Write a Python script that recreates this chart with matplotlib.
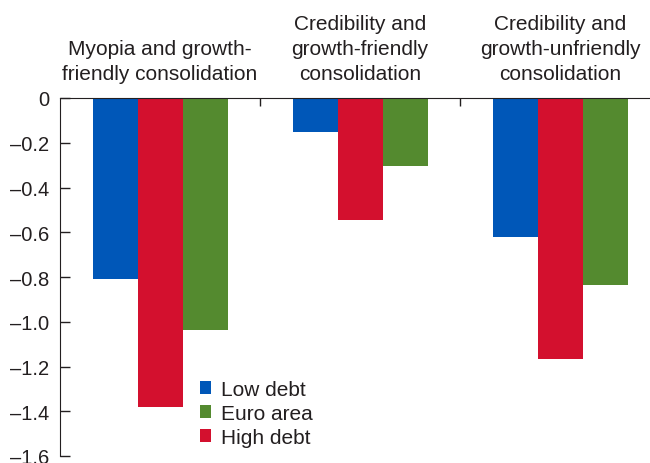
import matplotlib
matplotlib.use("Agg")
import matplotlib.pyplot as plt
import matplotlib.transforms as mtransforms
import numpy as np

plt.rcParams["font.family"] = ["Liberation Sans", "DejaVu Sans"]

groups = ["Myopia and growth-\nfriendly consolidation",
          "Credibility and\ngrowth-friendly\nconsolidation",
          "Credibility and\ngrowth-unfriendly\nconsolidation"]
low_debt = [-0.81, -0.15, -0.62]
high_debt = [-1.38, -0.545, -1.165]
euro_area = [-1.035, -0.305, -0.835]
yticks = [0, -0.2, -0.4, -0.6, -0.8, -1.0, -1.2, -1.4, -1.6]
yticklabels = ["0"] + ["\u2013%.1f" % abs(v) for v in yticks[1:]]

blue = "#0057B8"
red = "#D3102E"
green = "#548A2F"
txt = "#231F20"

fig = plt.figure(figsize=(6.5, 4.64), dpi=100)
ax = fig.add_axes([60 / 650, 7 / 464, 590 / 650, 358 / 464])

x = np.arange(len(groups))
w = 0.225
b1 = ax.bar(x - w, low_debt, w, color=blue, label="Low debt")
b2 = ax.bar(x, high_debt, w, color=red, label="High debt")
b3 = ax.bar(x + w, euro_area, w, color=green, label="Euro area")

ax.set_xlim(-0.5, 2.45)
ax.set_ylim(-1.6, 0)
ax.set_yticks(yticks)
ax.set_yticklabels(yticklabels)
ax.tick_params(axis="y", direction="in", length=7, width=1, pad=8,
               labelsize=14.5, colors=txt)

ax.spines["right"].set_visible(False)
ax.spines["bottom"].set_visible(False)
ax.spines["left"].set_color(txt)
ax.spines["top"].set_color(txt)
ax.xaxis.tick_top()
ax.set_xticks([0.5, 1.5])
ax.set_xticklabels([])
ax.tick_params(axis="x", direction="in", length=6, width=1, colors=txt)

trans = mtransforms.blended_transform_factory(ax.transData, ax.transAxes)
for i, g in enumerate(groups):
    ax.text(x[i], 1.042, g, transform=trans, ha="center", va="bottom",
            fontsize=15, color=txt, linespacing=1.4)

ax.legend([b1, b3, b2], ["Low debt", "Euro area", "High debt"],
          loc="upper left", bbox_to_anchor=(0.237, 0.212), frameon=False,
          fontsize=15, handlelength=0.55, handleheight=0.55,
          handletextpad=0.45, labelspacing=0.24, borderaxespad=0,
          borderpad=0, labelcolor=txt)

fig.savefig("out.png", dpi=100)
